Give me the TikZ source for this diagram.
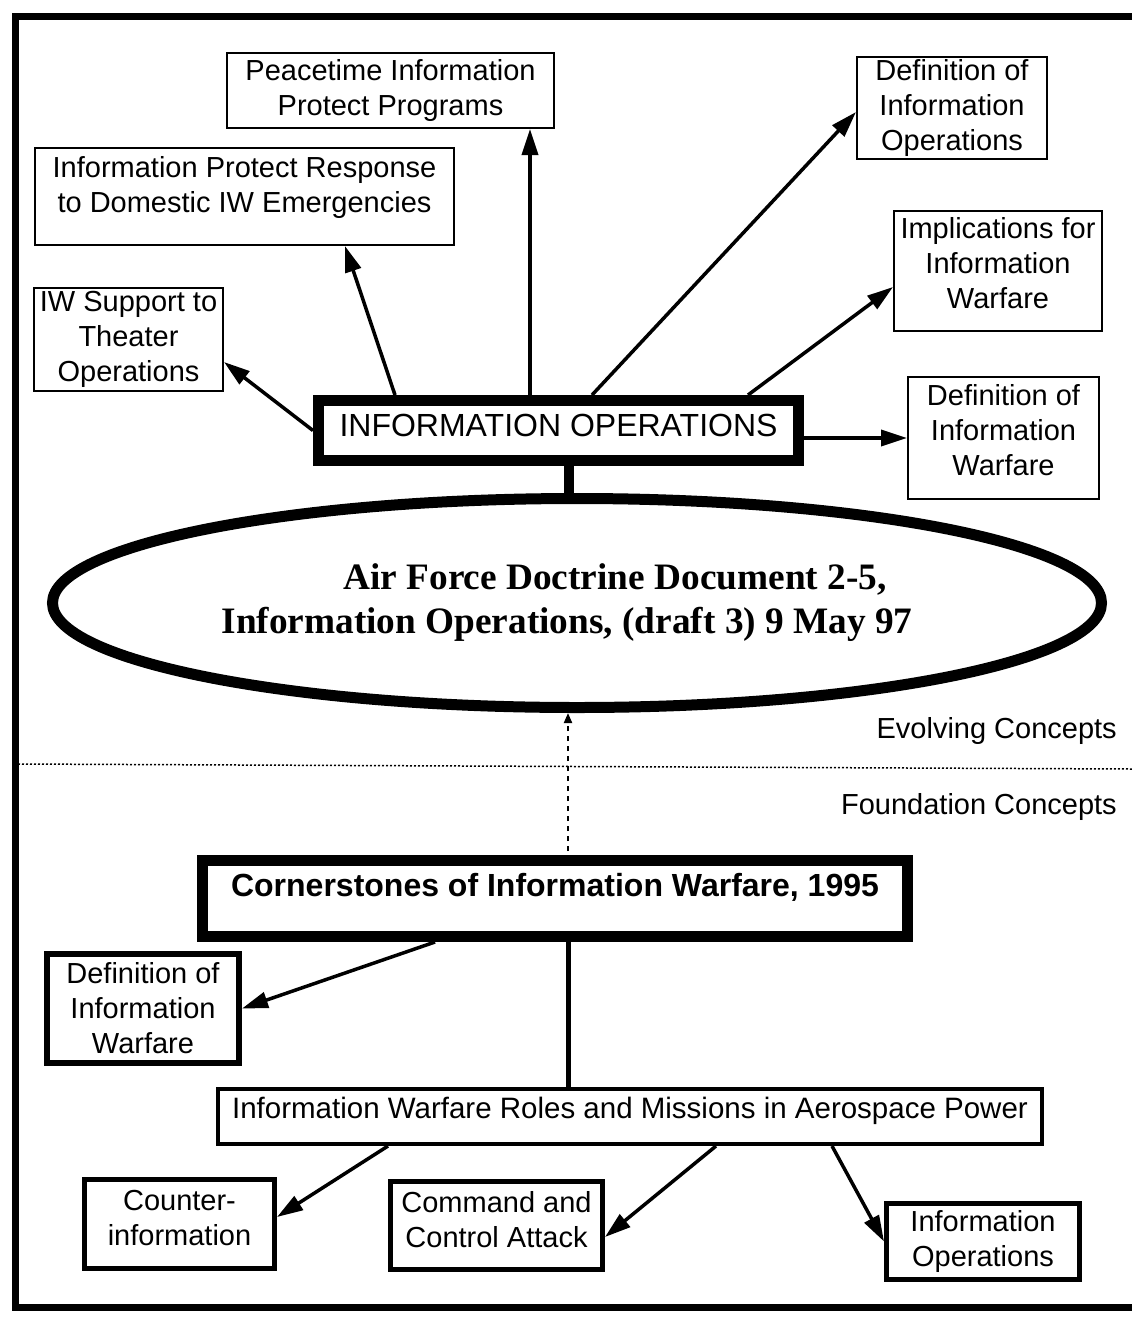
\documentclass[tikz,border=0pt]{standalone}
\usepackage{fontspec}
\setmainfont{Liberation Sans}
\newfontfamily\docfont{Liberation Serif}
\usepackage{tikz}
\usetikzlibrary{shapes.geometric}
\usetikzlibrary{arrows.meta}
\newcommand{\lowpad}[1]{\rule[-#1pt]{0pt}{#1pt}}

\begin{document}
\begin{tikzpicture}[
	x=1pt, y=-1pt,
	font=\fontsize{29}{35}\selectfont
]
\tikzset{
    mybox/.style = {rectangle, draw=black, align=center, line width=2pt, inner sep=0pt},
    myarrow/.style = {line width=3.5pt, -{Triangle[length=26pt,width=16pt]}}
}
\useasboundingbox (0,0) rectangle (1132,1318);
\draw[line width=7pt] (1140,16) -- (15,16) -- (15,1307) -- (1140,1307);

% evolving concepts
\node[mybox,minimum width=327pt,minimum height=75pt] (peace) at (390.5,90.5) {Peacetime Information\\Protect Programs};
\node[mybox,minimum width=419pt,minimum height=97pt] (ipr) at (244.5,196.5) {Information Protect Response\\to Domestic IW Emergencies\lowpad{25}};
\node[mybox,minimum width=189pt,minimum height=103pt] (iwsup) at (128.5,339.5) {IW Support to\\Theater\\Operations};
\node[mybox,minimum width=190pt,minimum height=102pt] (defio) at (952,108) {Definition of\\Information\\Operations};
\node[mybox,minimum width=208pt,minimum height=120pt] (impl) at (998,271) {Implications for\\Information\\Warfare\lowpad{16}};
\node[mybox,minimum width=191pt,minimum height=122pt] (defiwtop) at (1003.5,438) {Definition of\\Information\\Warfare\lowpad{16}};
\node[mybox,line width=11pt,minimum width=480pt,minimum height=60pt,font=\fontsize{32}{38}\selectfont] (infoops) at (558.5,430.5) {INFORMATION OPERATIONS\lowpad{11}};
\node[ellipse,draw=black,line width=11pt,minimum width=1049pt,minimum height=209pt,inner sep=0pt,align=center,
      font=\docfont\bfseries\fontsize{37.3}{44}\selectfont] (afdd) at (577,603)
      {\hspace*{76pt}Air Force Doctrine Document 2-5,\\Information Operations, (draft 3) 9 May 97\hspace*{20pt}};

\draw[myarrow] (infoops.west) -- ([yshift=-22.5pt]iwsup.east);
\draw[myarrow] ([xshift=82pt]infoops.north west) -- ([xshift=311pt]ipr.south west);
\draw[myarrow] ([xshift=217pt]infoops.north west) -- ([xshift=139.5pt]peace.south);
\draw[myarrow] ([xshift=279pt]infoops.north west) -- ([yshift=-4pt]defio.west);
\draw[myarrow] ([xshift=435pt]infoops.north west) -- ([yshift=-16pt]impl.west);
\draw[myarrow] (infoops.east |- defiwtop.west) -- (defiwtop.west);
\draw[line width=10pt] ([xshift=10pt]infoops.south) -- ([xshift=10pt]infoops.south |- afdd.north);

% divider
\coordinate (sepleft) at (18,764);
\coordinate (sepright) at (1132,769);
\draw[line width=1.5pt,dash pattern=on 2pt off 2pt] (sepleft) -- (sepright);
\node[anchor=east,inner sep=0pt] (evolving) at (1117,731) {Evolving Concepts};
\node[anchor=east,inner sep=0pt] (foundation) at (1117,807) {Foundation Concepts};

% foundation concepts
\node[mybox,line width=11pt,minimum width=705pt,minimum height=76pt,font=\bfseries\fontsize{32}{38}\selectfont] (corner) at (555,898.5) {Cornerstones of Information Warfare, 1995\lowpad{27}};
\node[mybox,line width=6pt,minimum width=192pt,minimum height=109pt] (defiwlow) at (143,1008.5) {Definition of\\Information\\Warfare};
\node[mybox,line width=4pt,minimum width=824pt,minimum height=55pt,font=\fontsize{29.5}{35}\selectfont] (roles) at (630,1116.5) {Information Warfare Roles and Missions in Aerospace Power\lowpad{17}};
\node[mybox,line width=5pt,minimum width=190pt,minimum height=89pt] (counter) at (179.5,1224) {Counter-\\information\lowpad{13}};
\node[mybox,line width=5pt,minimum width=212pt,minimum height=88pt] (ccattack) at (496.5,1225.5) {Command and\\Control Attack\lowpad{12}};
\node[mybox,line width=5pt,minimum width=193pt,minimum height=76pt] (infoopslow) at (983,1241.5) {Information\\Operations};

\draw[line width=2pt,dash pattern=on 5pt off 5pt,-{Triangle[length=10pt,width=8pt]}] ([xshift=13pt,yshift=4pt]corner.north) -- ([xshift=13pt]corner.north |- afdd.south);
\draw[line width=5pt] ([xshift=13pt]corner.south) -- ([xshift=13pt]corner.south |- roles.north);
\draw[myarrow] ([xshift=-120pt]corner.south) -- (defiwlow.east);
\draw[myarrow] ([xshift=172pt]roles.south west) -- ([yshift=7pt]counter.east);
\draw[myarrow] ([xshift=500pt]roles.south west) -- ([yshift=-11.5pt]ccattack.east);
\draw[myarrow] ([xshift=616pt]roles.south west) -- (infoopslow.west);
\end{tikzpicture}
\end{document}
